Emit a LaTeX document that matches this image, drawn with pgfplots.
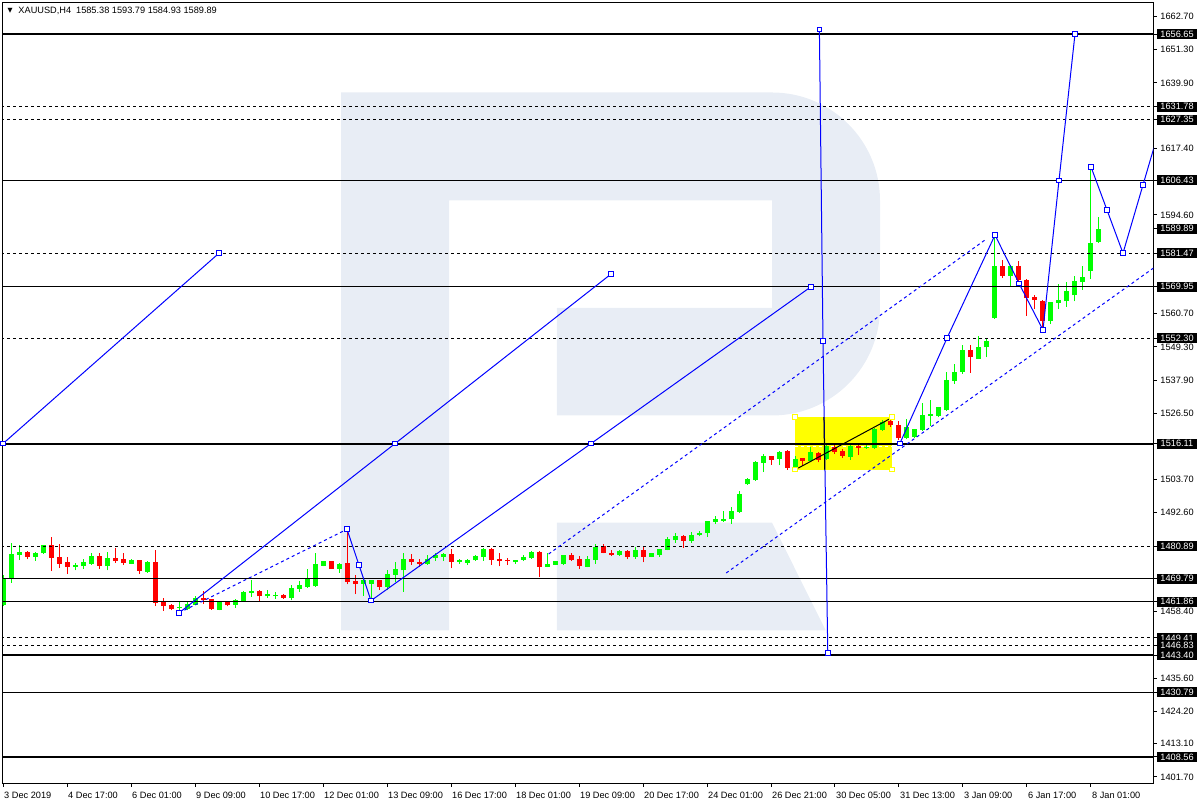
\documentclass[border=0pt]{standalone}
\usepackage{fontspec}
\setmainfont{Liberation Sans}
\newfontfamily\dejavu{DejaVu Sans}
\usepackage{pgfplots}
\usepackage{pgfplotstable}
\pgfplotsset{compat=1.18}
\definecolor{bull}{RGB}{0,255,0}
\definecolor{bear}{RGB}{255,0,0}
\definecolor{logo}{RGB}{232,237,245}
\definecolor{mtblue}{RGB}{0,0,255}
\definecolor{mtyellow}{RGB}{255,255,0}

\pgfplotstableread{
i O H L C
0 1460.6 1470.9 1460.2 1470.1
1 1469.8 1482.0 1468.3 1478.1
2 1477.8 1481.2 1476.1 1479.0
4 1477.2 1478.9 1475.9 1478.6
5 1478.4 1481.3 1478.3 1481.2
9 1473.8 1475.2 1472.6 1474.6
10 1474.0 1476.6 1473.2 1475.5
11 1474.9 1478.4 1474.6 1477.4
13 1474.0 1478.9 1472.6 1476.9
16 1474.8 1476.4 1474.7 1476.3
18 1472.1 1475.8 1471.8 1475.5
22 1459.6 1461.8 1458.7 1460.0
23 1459.3 1462.0 1458.9 1461.2
24 1460.8 1463.7 1460.6 1463.1
27 1459.1 1462.0 1458.9 1461.8
29 1460.8 1462.6 1459.8 1462.3
30 1462.0 1465.4 1462.0 1465.2
31 1464.9 1469.2 1463.5 1465.5
33 1463.7 1465.8 1463.2 1464.4
34 1463.8 1465.3 1462.9 1464.1
36 1463.2 1467.7 1462.3 1466.6
37 1466.3 1468.8 1465.2 1467.5
38 1466.9 1472.9 1466.7 1470.1
39 1467.1 1478.7 1466.9 1474.7
40 1474.1 1475.8 1474.0 1475.7
42 1473.1 1475.2 1471.7 1474.9
45 1468.0 1469.8 1463.8 1469.4
46 1468.0 1469.4 1462.3 1469.2
48 1466.9 1472.6 1465.8 1471.3
49 1471.1 1475.5 1468.6 1472.9
50 1472.6 1478.6 1465.2 1476.6
53 1474.9 1478.0 1474.6 1476.6
54 1477.0 1478.7 1475.8 1477.8
55 1477.2 1478.7 1475.8 1478.1
57 1475.5 1476.6 1474.9 1476.1
58 1475.2 1476.4 1474.4 1476.1
59 1476.0 1478.0 1475.9 1477.4
60 1477.2 1480.3 1475.9 1480.1
64 1475.5 1476.3 1474.9 1476.3
65 1476.3 1477.8 1475.8 1477.2
66 1476.9 1479.2 1476.6 1478.9
68 1473.8 1478.4 1473.6 1474.7
69 1474.6 1475.8 1474.4 1475.7
70 1474.9 1478.0 1474.4 1477.8
73 1473.8 1477.4 1473.6 1476.6
74 1476.1 1481.5 1474.9 1480.7
77 1477.8 1479.7 1477.5 1479.2
79 1477.2 1480.7 1476.6 1479.5
81 1477.2 1478.5 1477.1 1478.4
82 1477.8 1480.1 1477.2 1479.9
83 1479.7 1484.1 1479.5 1483.3
84 1482.9 1485.5 1482.0 1484.3
86 1482.6 1485.8 1482.0 1484.7
87 1484.7 1486.0 1484.3 1485.5
88 1485.5 1489.5 1484.1 1489.5
89 1489.2 1491.2 1488.5 1490.1
90 1489.6 1492.9 1489.3 1490.2
91 1490.1 1494.4 1488.5 1492.9
92 1492.7 1499.8 1492.3 1498.8
93 1502.1 1504.4 1501.9 1503.9
94 1503.6 1510.3 1503.4 1509.9
95 1509.4 1512.6 1506.3 1511.7
97 1510.9 1513.4 1508.6 1513.2
99 1507.9 1512.0 1506.6 1510.9
101 1510.2 1514.8 1509.7 1513.1
103 1510.7 1515.5 1510.5 1515.3
106 1511.6 1515.5 1510.5 1515.3
108 1514.6 1515.8 1514.4 1514.9
109 1514.7 1521.4 1514.4 1521.0
110 1520.8 1524.2 1520.5 1523.6
113 1518.2 1524.5 1517.6 1521.8
114 1518.4 1521.0 1518.2 1521.0
115 1520.8 1530.0 1520.5 1526.0
116 1525.7 1531.1 1522.2 1526.2
117 1525.6 1528.7 1525.1 1528.5
118 1527.6 1540.8 1527.3 1538.0
119 1537.7 1543.4 1536.5 1540.8
120 1540.8 1550.0 1540.0 1548.3
122 1545.3 1553.1 1545.1 1549.1
123 1549.1 1552.0 1545.7 1551.2
124 1559.2 1587.5 1558.9 1577.2
126 1573.8 1577.4 1569.8 1577.2
131 1558.3 1564.6 1557.1 1564.6
132 1564.3 1570.9 1562.3 1565.5
133 1564.9 1571.5 1563.1 1568.6
134 1567.0 1573.8 1564.9 1572.0
135 1571.6 1576.9 1569.0 1573.2
136 1575.5 1611.0 1572.6 1585.1
137 1585.38 1593.79 1584.93 1589.89
}\bulltab

\pgfplotstableread{
i O H L C
3 1479.0 1479.3 1476.4 1477.2
6 1481.2 1484.1 1472.3 1476.9
7 1477.2 1481.8 1473.4 1474.9
8 1475.5 1477.2 1471.3 1473.8
12 1477.4 1478.4 1473.2 1474.1
14 1476.9 1480.3 1475.2 1475.8
15 1476.4 1478.6 1474.6 1475.2
17 1476.1 1476.1 1471.3 1472.4
19 1475.5 1479.5 1460.3 1461.4
20 1461.8 1463.2 1458.7 1460.3
21 1460.6 1461.2 1458.9 1459.2
25 1463.1 1465.4 1461.2 1462.3
26 1462.6 1462.8 1459.1 1459.2
28 1461.8 1461.8 1460.2 1460.6
32 1465.4 1465.8 1462.0 1463.7
35 1464.0 1464.4 1462.9 1463.2
41 1475.7 1475.8 1473.2 1473.2
43 1475.2 1486.7 1467.8 1468.6
44 1468.8 1470.9 1464.4 1468.0
47 1469.2 1469.4 1466.0 1466.9
51 1476.6 1478.1 1474.6 1475.5
52 1475.3 1476.4 1473.8 1474.9
56 1478.1 1479.9 1473.4 1475.5
61 1480.1 1480.3 1474.6 1476.1
62 1476.6 1478.4 1474.0 1475.8
63 1476.1 1477.0 1474.6 1475.8
67 1478.9 1479.2 1470.3 1473.8
71 1477.8 1478.4 1475.8 1476.1
72 1476.4 1477.4 1473.0 1474.1
75 1481.0 1481.5 1478.4 1478.6
76 1478.6 1479.5 1477.6 1477.8
78 1479.3 1479.7 1476.4 1477.2
80 1479.5 1480.7 1475.3 1477.2
85 1484.3 1484.7 1480.4 1482.7
96 1512.0 1512.0 1508.8 1510.6
98 1513.4 1514.0 1507.2 1507.9
100 1511.1 1511.1 1508.5 1510.2
102 1513.0 1513.1 1509.7 1510.5
104 1514.9 1516.0 1512.5 1513.1
105 1513.5 1514.3 1511.2 1511.9
107 1515.3 1516.4 1512.3 1514.6
111 1523.7 1525.1 1521.9 1522.5
112 1522.5 1523.9 1517.3 1518.2
121 1548.3 1550.0 1540.5 1545.7
125 1577.2 1579.2 1572.9 1573.8
127 1577.2 1578.9 1571.2 1572.3
128 1572.3 1572.6 1560.0 1566.0
129 1566.3 1567.2 1562.3 1565.4
130 1564.9 1565.4 1554.9 1558.3
}\beartab

\begin{document}
\begin{tikzpicture}
\begin{axis}[
  scale only axis, width=1150.6pt, height=780.8pt,
  xmin=-0.04, xmax=143.79, ymin=1399.44, ymax=1667.45,
  axis line style={line width=1pt},
  xtick={0,8,...,136},
  xticklabels={3 Dec 2019,4 Dec 17:00,6 Dec 01:00,9 Dec 09:00,10 Dec 17:00,12 Dec 01:00,13 Dec 09:00,16 Dec 17:00,18 Dec 01:00,19 Dec 09:00,20 Dec 17:00,24 Dec 01:00,26 Dec 21:00,30 Dec 05:00,31 Dec 13:00,3 Jan 09:00,6 Jan 17:00,8 Jan 01:00},
  xtick pos=left,
  ytick pos=right, yticklabel pos=right,
  ytick={1662.70,1651.30,1639.90,1617.40,1594.60,1560.70,1549.30,1537.90,1526.50,1503.70,1492.60,1458.40,1435.60,1424.20,1413.10,1401.70},
  extra y ticks={1656.65,1631.78,1627.35,1606.43,1589.89,1581.47,1569.95,1552.30,1516.11,1480.89,1469.79,1461.86,1449.41,1446.83,1443.40,1430.79,1408.56},
  extra y tick style={tick label style={fill=black, text=white}},
  scaled y ticks=false,
  y tick label style={/pgf/number format/fixed, /pgf/number format/fixed zerofill, /pgf/number format/precision=2, /pgf/number format/1000 sep={}, /pgf/number format/assume math mode=true},
  tick label style={font=\fontsize{9.2}{11}\selectfont},
  y tick label style={anchor=west, inner xsep=3.4pt, inner ysep=1.3pt, text height=6.8pt, text depth=0.6pt, minimum width=40pt},
  x tick label style={anchor=north west, inner sep=0pt, xshift=1pt, yshift=-4.5pt},
  tick align=outside, major tick length=3.5pt,
  tick style={black, line width=1pt},
  clip=true,
]
\coordinate (bl) at (rel axis cs:0,0);
\coordinate (tr) at (rel axis cs:1,1);
% watermark logo
\fill[logo] (axis cs:42.25,1636.63) -- (axis cs:96.125,1636.63) arc[start angle=90, end angle=0, radius=108pt]
  -- (axis cs:109.625,1562.83) arc[start angle=0, end angle=-90, radius=108pt]
  -- (axis cs:69.225,1525.76) -- (axis cs:69.225,1562.73) -- (axis cs:96.125,1562.73) -- (axis cs:96.125,1599.62)
  -- (axis cs:55.7625,1599.62) -- (axis cs:55.7625,1451.99) -- (axis cs:42.25,1451.99) -- cycle;
\fill[logo] (axis cs:69.225,1488.99) -- (axis cs:96.125,1488.99) -- (axis cs:102.84,1451.99) -- (axis cs:69.225,1451.99) -- cycle;

% yellow rectangle (background object)
\addplot[fill=mtyellow, draw=none, forget plot] coordinates {(99.0,1507.2) (111.1,1507.2) (111.1,1525.2) (99.0,1525.2)} -- cycle;
\addplot[white, line width=1pt, dash pattern=on 3pt off 3pt, forget plot] coordinates {(99.0,1515.0) (111.1,1515.0)};

% candles: wicks
\addplot[draw=none, mark=none, forget plot, error bars/.cd, y dir=plus, y explicit, error mark=none, error bar style={draw=bull, line width=1pt, solid}]
  table[x=i, y=L, y error plus expr=\thisrow{H}-\thisrow{L}] {\bulltab};
\addplot[draw=none, mark=none, forget plot, error bars/.cd, y dir=plus, y explicit, error mark=none, error bar style={draw=bear, line width=1pt, solid}]
  table[x=i, y=L, y error plus expr=\thisrow{H}-\thisrow{L}] {\beartab};
% candles: bodies
\addplot[draw=none, mark=none, forget plot, error bars/.cd, y dir=plus, y explicit, error mark=none, error bar style={draw=bull, line width=5pt, solid}]
  table[x=i, y=O, y error plus expr=\thisrow{C}-\thisrow{O}] {\bulltab};
\addplot[draw=none, mark=none, forget plot, error bars/.cd, y dir=plus, y explicit, error mark=none, error bar style={draw=bear, line width=5pt, solid}]
  table[x=i, y=C, y error plus expr=\thisrow{O}-\thisrow{C}] {\beartab};

% horizontal levels
\addplot[black, line width=2pt, forget plot] coordinates {(-1,1656.65) (150,1656.65)};
\addplot[black, line width=2pt, forget plot] coordinates {(-1,1516.11) (150,1516.11)};
\addplot[black, line width=2pt, forget plot] coordinates {(-1,1443.40) (150,1443.40)};
\addplot[black, line width=2pt, forget plot] coordinates {(-1,1408.56) (150,1408.56)};
\addplot[black, line width=1pt, forget plot] coordinates {(-1,1606.43) (150,1606.43)};
\addplot[black, line width=1pt, forget plot] coordinates {(-1,1569.95) (150,1569.95)};
\addplot[black, line width=1pt, forget plot] coordinates {(-1,1469.79) (150,1469.79)};
\addplot[black, line width=1pt, forget plot] coordinates {(-1,1461.86) (150,1461.86)};
\addplot[black, line width=1pt, forget plot] coordinates {(-1,1430.79) (150,1430.79)};
\addplot[black, line width=1pt, dash pattern=on 3pt off 3pt, forget plot] coordinates {(-1,1631.78) (150,1631.78)};
\addplot[black, line width=1pt, dash pattern=on 3pt off 3pt, forget plot] coordinates {(-1,1627.35) (150,1627.35)};
\addplot[black, line width=1pt, dash pattern=on 3pt off 3pt, forget plot] coordinates {(-1,1581.47) (150,1581.47)};
\addplot[black, line width=1pt, dash pattern=on 3pt off 3pt, forget plot] coordinates {(-1,1552.30) (150,1552.30)};
\addplot[black, line width=1pt, dash pattern=on 3pt off 3pt, forget plot] coordinates {(-1,1480.89) (150,1480.89)};
\addplot[black, line width=1pt, dash pattern=on 3pt off 3pt, forget plot] coordinates {(-1,1449.41) (150,1449.41)};
\addplot[black, line width=1pt, dash pattern=on 3pt off 3pt, forget plot] coordinates {(-1,1446.83) (150,1446.83)};

% blue projection lines
\addplot[mtblue, line width=1pt, forget plot] coordinates {(0,1516.11) (27,1581.47)};
\addplot[mtblue, line width=1pt, forget plot] coordinates {(22,1458.0) (49,1516.11) (76,1574.3)};
\addplot[mtblue, line width=1pt, forget plot] coordinates {(43,1486.7) (44.5,1474.4) (46,1462.2) (73.5,1516.11) (101,1569.95)};
\addplot[mtblue, line width=1pt, forget plot] coordinates {(102.05,1658.2) (102.5,1551.3) (103.1,1444.3)};
\addplot[mtblue, line width=1pt, forget plot] coordinates {(112.1,1516.11) (118,1552.3) (124,1587.7) (127,1571.1) (130,1555.1) (132,1606.43) (134,1656.65)};
\addplot[mtblue, line width=1pt, forget plot] coordinates {(136,1611.1) (138,1596.3) (140,1581.47) (145,1628.3)};
\addplot[mtblue, line width=1pt, dash pattern=on 3pt off 3pt, forget plot] coordinates {(22,1458.0) (43,1486.7)};
\addplot[mtblue, line width=1pt, dash pattern=on 3pt off 3pt, forget plot] coordinates {(68.2,1478.2) (122.75,1586.0)};
\addplot[mtblue, line width=1pt, dash pattern=on 3pt off 3pt, forget plot] coordinates {(90.4,1471.7) (145,1578.7)};
% black trend line and line part over the yellow box
\addplot[black, line width=1pt, forget plot] coordinates {(99.4,1507.7) (110.9,1524.7)};
\addplot[black, line width=1pt, forget plot] coordinates {(102.62,1525.2) (102.71,1507.2)};

% anchor squares
\addplot[only marks, mark=square*, mark size=2.3pt, mark options={fill=white, draw=mtblue, line width=1pt}, forget plot] coordinates {
(0,1516.11) (27,1581.47) (22,1458.0) (49,1516.11) (76,1574.3)
(43,1486.7) (44.5,1474.4) (46,1462.2) (73.5,1516.11) (101,1569.95)
(102.05,1658.2) (102.5,1551.3) (103.1,1444.3)
(112.1,1516.11) (118,1552.3) (124,1587.7) (127,1571.1) (130,1555.1) (132,1606.43) (134,1656.65)
(136,1611.1) (138,1596.3) (140,1581.47) (142.5,1604.9)};
\addplot[only marks, mark=square*, mark size=2.3pt, mark options={fill=white, draw=mtyellow, line width=1pt}, forget plot] coordinates {
(99.0,1507.2) (111.1,1507.2) (111.1,1525.2) (99.0,1525.2)};

% header
\node[anchor=center, inner sep=0pt, xshift=7.5pt, yshift=-8pt] at (rel axis cs:0,1) {\dejavu\fontsize{6.5}{7}\selectfont ▼};
\node[anchor=west, inner sep=0pt, xshift=15.6pt, yshift=-8pt] at (rel axis cs:0,1) {\fontsize{9.2}{11}\selectfont XAUUSD,H4\hspace{5pt}1585.38 1593.79 1584.93 1589.89};
\end{axis}
\pgfresetboundingbox
\path[use as bounding box] ([shift={(-2.7pt,-16.5pt)}]bl) rectangle ([shift={(46.7pt,2.7pt)}]tr);
\end{tikzpicture}
\end{document}
